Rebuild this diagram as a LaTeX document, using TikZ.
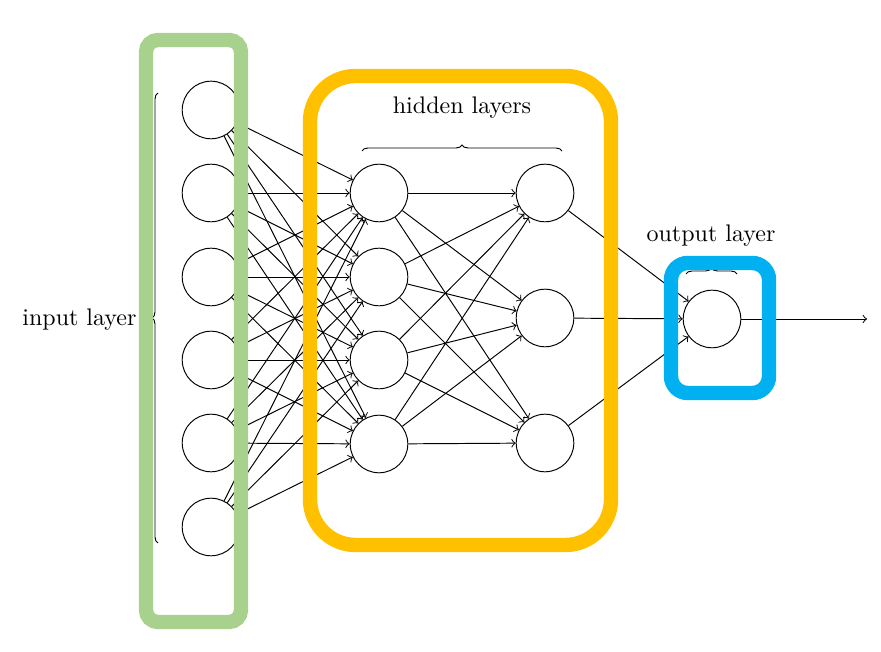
\documentclass[tikz,border=0pt]{standalone}
\usetikzlibrary{decorations.pathreplacing}
\definecolor{boxgreen}{RGB}{169,209,142}
\definecolor{boxyellow}{RGB}{255,192,0}
\definecolor{boxblue}{RGB}{0,176,240}
\begin{document}
\begin{tikzpicture}[x=0.4167pt,y=-0.4167pt,
	neuron/.style={circle,draw,minimum size=24pt,inner sep=0pt},
	layerbox/.style={line width=6pt,rounded corners=#1},
	brc/.style={decorate,decoration={brace,amplitude=2.5pt}}]
	\useasboundingbox (0,0) rectangle (881,652);
	\foreach \y [count=\i] in {110,193,277,360,443,527}
		\node[neuron] (I\i) at (211,\y) {};
	\foreach \y [count=\i] in {193,277,360,444}
		\node[neuron] (H\i) at (379,\y) {};
	\foreach \y [count=\i] in {193,318,443}
		\node[neuron] (G\i) at (545,\y) {};
	\node[neuron] (O) at (712,319) {};
	\coordinate (outend) at (867,319);
	\foreach \i in {1,...,6}
		\foreach \j in {1,...,4}
			\draw[->] (I\i) -- (H\j);
	\foreach \i in {1,...,4}
		\foreach \j in {1,...,3}
			\draw[->] (H\i) -- (G\j);
	\foreach \j in {1,...,3}
		\draw[->] (G\j) -- (O);
	\draw[->] (O) -- (outend);
	\draw[brc] (158,543) -- (158,93);
	\draw[brc] (362,151) -- (562,151);
	\draw[brc] (686,274) -- (737,274);
	\node[anchor=east,inner sep=0pt] (inlabel) at (137,320) {input layer};
	\node (hidlabel) at (462,108) {hidden layers};
	\node (outlabel) at (711,236) {output layer};
	\draw[boxgreen,layerbox=5pt] (146,40) rectangle (241,622);
	\draw[boxyellow,layerbox=19pt] (310,76) rectangle (611,545);
	\draw[boxblue,layerbox=7pt] (671,263) rectangle (769,393);
\end{tikzpicture}
\end{document}
